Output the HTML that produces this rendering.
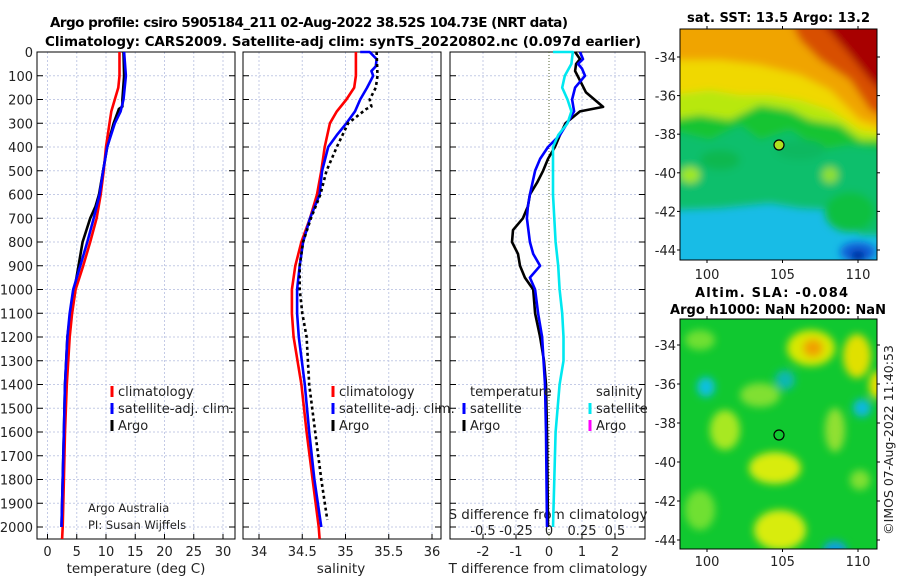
<!DOCTYPE html>
<html><head><meta charset="utf-8"><style>
html,body{margin:0;padding:0;background:#fff;}
svg{display:block;font-family:"DejaVu Sans","Liberation Sans",sans-serif;}
</style></head><body>
<svg id="fig" width="900" height="580" viewBox="0 0 900 580" xmlns="http://www.w3.org/2000/svg">
<defs>
<filter id="bl" x="-10%" y="-10%" width="120%" height="120%"><feGaussianBlur stdDeviation="4"/></filter>
<filter id="bl2" x="-10%" y="-10%" width="120%" height="120%"><feGaussianBlur stdDeviation="4"/></filter>
<clipPath id="cm1"><rect x="680" y="29" width="197" height="231"/></clipPath>
<clipPath id="cm2"><rect x="680" y="319" width="197" height="230"/></clipPath>
</defs>
<text x="50" y="27" textLength="518" font-size="13.5" font-weight="bold">Argo profile: csiro 5905184_211 02-Aug-2022 38.52S 104.73E (NRT data)</text>
<text x="45" y="46" textLength="596" font-size="13.5" font-weight="bold">Climatology: CARS2009. Satellite-adj clim: synTS_20220802.nc (0.097d earlier)</text>

<!-- SST map -->
<g clip-path="url(#cm1)">
<rect x="680" y="29" width="197" height="231" fill="#18bce6"/>
<g filter="url(#bl)">
<polygon points="670,20 890,20 890,235 860,235 840,210 800,208 770,203 720,208 670,210" fill="#0cbf6c"/>
<polygon points="670,20 890,20 890,150 850,145 820,150 790,130 760,140 740,125 710,140 670,130" fill="#12c430"/>
<polygon points="670,20 890,20 890,140 860,140 840,125 810,120 790,110 760,105 730,120 700,115 670,120" fill="#b8e810"/>
<polygon points="670,20 890,20 890,135 860,130 830,110 800,100 770,95 740,95 710,90 670,95" fill="#f0d800"/>
<polygon points="670,20 890,20 890,130 860,120 830,90 800,75 760,65 720,60 680,60 670,60" fill="#f0a400"/>
<polygon points="790,20 890,20 890,120 870,110 850,80 820,60 800,40" fill="#d85000"/>
<polygon points="820,20 890,20 890,100 870,80 850,55" fill="#a80000"/>
<ellipse cx="850" cy="212" rx="25" ry="20" fill="#10c040"/>
<ellipse cx="830" cy="175" rx="8" ry="8" fill="#90e030"/>
<ellipse cx="690" cy="175" rx="10" ry="8" fill="#a0e820"/>
<ellipse cx="720" cy="160" rx="20" ry="10" fill="#10b850"/>
<ellipse cx="800" cy="150" rx="25" ry="10" fill="#10b860"/>
<ellipse cx="858" cy="252" rx="18" ry="10" fill="#1060d8"/>
<ellipse cx="858" cy="256" rx="7" ry="5" fill="#001090"/>
</g>
</g>
<rect x="680" y="29" width="197" height="231" fill="none" stroke="#000" stroke-width="1"/>
<circle cx="779" cy="145" r="5" fill="#b0e020" stroke="#000" stroke-width="1.2"/>
<text x="687" y="22" textLength="183" font-size="13" font-weight="bold">sat. SST: 13.5 Argo: 13.2</text>

<!-- SLA map -->
<g clip-path="url(#cm2)">
<rect x="680" y="319" width="197" height="230" fill="#10c830"/>
<g filter="url(#bl2)">
<ellipse cx="811" cy="348" rx="24" ry="18" fill="#d8e800"/>
<ellipse cx="813" cy="348" rx="10" ry="9" fill="#f0a000"/>
<ellipse cx="857" cy="356" rx="14" ry="22" fill="#e0e000"/>
<ellipse cx="877" cy="385" rx="8" ry="14" fill="#e8e000"/>
<ellipse cx="706" cy="387" rx="9" ry="10" fill="#10c0e0"/>
<ellipse cx="785" cy="380" rx="10" ry="10" fill="#10b8b0"/>
<ellipse cx="862" cy="408" rx="9" ry="9" fill="#10b8e0"/>
<ellipse cx="725" cy="430" rx="15" ry="20" fill="#a8e820"/>
<ellipse cx="775" cy="468" rx="26" ry="16" fill="#d8ec10"/>
<ellipse cx="780" cy="530" rx="26" ry="20" fill="#d8ec10"/>
<ellipse cx="835" cy="430" rx="10" ry="22" fill="#90e030"/>
<ellipse cx="835" cy="550" rx="12" ry="9" fill="#10a0e0"/>
<ellipse cx="760" cy="395" rx="20" ry="12" fill="#80e030"/>
<ellipse cx="700" cy="340" rx="15" ry="10" fill="#70e030"/>
<ellipse cx="700" cy="510" rx="15" ry="20" fill="#70e030"/>
<ellipse cx="860" cy="480" rx="10" ry="10" fill="#80e030"/>
</g>
</g>
<rect x="680" y="319" width="197" height="230" fill="none" stroke="#000" stroke-width="1"/>
<circle cx="779" cy="435" r="5" fill="none" stroke="#000" stroke-width="1.2"/>
<text x="695" y="297" textLength="153" font-size="13" font-weight="bold">Altim. SLA: -0.084</text>
<text x="670" y="314" textLength="216" font-size="13" font-weight="bold">Argo h1000: NaN h2000: NaN</text>
<text transform="translate(893,440) rotate(-90)" text-anchor="middle" font-size="12.5" fill="#222">©IMOS 07-Aug-2022 11:40:53</text>

<g id="plots"></g>
</svg>
<script>
// ---- data ----
const depthTicks = [0,100,200,300,400,500,600,700,800,900,1000,1100,1200,1300,1400,1500,1600,1700,1800,1900,2000];
const tempTicks = [0,5,10,15,20,25,30];
const salTicks = [34,34.5,35,35.5,36];
const tdiffTicks = [-2,-1,0,1,2];
const sdiffTicks = [-0.5,-0.25,0,0.25,0.5];
const latTicks = [-34,-36,-38,-40,-42,-44];
const lonTicks = [100,105,110];

const tClimDepth = [0,100,150,200,250,300,400,500,600,700,800,900,1000,1100,1200,1400,1600,1800,2000,2050];
const tClimVal   = [12.3,12.3,12.1,11.5,10.9,10.6,10.0,9.6,9.1,8.4,7.3,6.1,4.8,4.2,3.8,3.3,3.0,2.8,2.6,2.5];
const tSatDepth  = [0,100,150,200,250,300,400,500,600,700,800,900,1000,1100,1200,1400,1600,1800,2000];
const tSatVal    = [13.1,13.4,13.2,13.0,12.5,11.5,10.2,9.5,8.9,7.9,6.8,5.6,4.4,3.8,3.4,3.0,2.8,2.6,2.4];
const tArgoDepth = [0,100,200,230,240,300,400,500,600,650,700,800,900,1000,1100,1200,1400,1600,1800,2000];
const tArgoVal   = [13.0,13.1,12.8,12.8,12.2,11.3,10.2,9.5,8.8,8.2,7.3,6.0,5.3,4.6,3.9,3.4,3.0,2.8,2.6,2.4];

const sClimDepth = [0,100,150,200,250,300,400,500,600,700,800,900,1000,1100,1200,1400,1600,1800,2000,2050];
const sClimVal   = [35.12,35.12,35.10,35.01,34.90,34.82,34.76,34.72,34.67,34.59,34.49,34.42,34.38,34.38,34.40,34.49,34.55,34.62,34.69,34.70];
const sSatDepth  = [0,0,30,60,80,100,150,200,250,300,350,400,500,600,700,800,900,1000,1100,1200,1400,1600,1800,2000];
const sSatVal    = [35.17,35.28,35.36,35.35,35.30,35.32,35.25,35.17,35.11,35.01,34.90,34.80,34.73,34.70,34.59,34.51,34.47,34.44,34.44,34.46,34.53,34.58,34.64,34.72];
const sArgoDepth = [0,100,150,200,230,240,300,400,500,600,700,800,900,1000,1100,1200,1400,1600,1800,1970];
const sArgoVal   = [35.36,35.37,35.35,35.28,35.30,35.24,35.03,34.90,34.78,34.71,34.60,34.51,34.47,34.47,34.50,34.55,34.58,34.65,34.72,34.79];

const dTArgoDepth = [0,30,50,80,120,170,231,250,300,350,400,450,500,550,600,650,700,750,800,850,900,950,1000,1100,1200,1300,1400,1600,2000];
const dTArgoVal   = [0.79,0.94,0.82,0.79,0.94,1.12,1.64,0.94,0.50,0.33,0.18,-0.03,-0.18,-0.36,-0.58,-0.64,-0.79,-1.09,-1.12,-0.94,-0.88,-0.73,-0.48,-0.42,-0.27,-0.15,-0.09,-0.06,-0.03];
const dTSatDepth  = [0,30,50,70,100,150,200,250,300,350,400,450,500,600,650,700,800,850,900,950,1000,1100,1200,1400,1600,2000];
const dTSatVal    = [0.94,1.03,0.88,1.0,1.09,0.79,0.70,0.76,0.55,0.33,-0.03,-0.27,-0.42,-0.58,-0.64,-0.67,-0.58,-0.48,-0.27,-0.58,-0.42,-0.33,-0.21,-0.12,-0.09,-0.06];
const dSSatDepth  = [0,0,50,100,150,200,250,300,350,400,500,600,700,800,900,1000,1100,1200,1300,1400,1600,1800,2000];
const dSSatVal    = [0.03,0.18,0.17,0.12,0.10,0.14,0.17,0.14,0.07,0.03,0.03,0.03,0.04,0.05,0.07,0.08,0.10,0.11,0.11,0.08,0.05,0.04,0.03];

// ---- geometry ----
const TOP=52, BOT=539, PX_PER_M=0.2375;
const yD = d => TOP + d*PX_PER_M;
const xT = t => 47.5 + t*5.85;
const xS = s => 259 + (s-34)*86.5;
const xDT = v => 549 + v*33;
const xDS = v => 549 + v*132;
const panels = [{x0:37,x1:235},{x0:243,x1:441},{x0:450,x1:645}];

const NS='http://www.w3.org/2000/svg';
const root=document.getElementById('plots');
function mk(tag, attrs, parent){
  const e=document.createElementNS(NS,tag);
  for(const k in attrs) e.setAttribute(k,attrs[k]);
  (parent||root).appendChild(e); return e;
}
function txt(str,x,y,size,anchor,fill){
  const t=mk('text',{x:x,y:y,'font-size':size,'text-anchor':anchor||'start',fill:fill||'#222'});
  t.textContent=str; return t;
}

panels.forEach((p,i)=>{
  const g=mk('g',{});
  
  
  depthTicks.forEach(d=>{
    mk('line',{x1:p.x0,x2:p.x1,y1:yD(d),y2:yD(d),stroke:'#c4cbe6','stroke-width':1,'stroke-dasharray':'2,2'},g);
    mk('line',{x1:p.x0,x2:p.x0+6,y1:yD(d),y2:yD(d),stroke:'#000'},g);
    mk('line',{x1:p.x1-6,x2:p.x1,y1:yD(d),y2:yD(d),stroke:'#000'},g);
  });
  const xs = i===0? tempTicks.map(xT) : i===1? salTicks.map(xS) : tdiffTicks.filter(v=>v!==0).map(xDT);
  xs.forEach(x=>{
    mk('line',{x1:x,x2:x,y1:TOP,y2:BOT,stroke:'#c4cbe6','stroke-width':1,'stroke-dasharray':'2,2'},g);
    mk('line',{x1:x,x2:x,y1:BOT-5,y2:BOT,stroke:'#000'},g);
  });
  const fr=mk('rect',{x:p.x0,y:TOP,width:p.x1-p.x0,height:BOT-TOP,fill:'none',stroke:'#000','stroke-width':1},g);
  
  
});

depthTicks.forEach(d=>{
  const t=txt(String(d),33,yD(d)+5,13,'end');
  
  
});
tempTicks.forEach(v=>{const t=txt(String(v),xT(v),556,13,'middle');
  
  });
salTicks.forEach(v=>{const t=txt(String(v),xS(v),556,13,'middle');
  
  });
tdiffTicks.forEach(v=>{const t=txt(String(v),xDT(v),556,13,'middle');
  
  });
sdiffTicks.forEach(v=>{const t=txt(String(v),xDS(v),535,13,'middle');
  
  });

let a;
a=txt('temperature (deg C)',136,573,13.5,'middle');


a=txt('salinity',341,573,13.5,'middle');


a=txt('T difference from climatology',548,573,13.5,'middle');


a=txt('S difference from climatology',548,519,13.5,'middle');


a=txt('Argo Australia',88,512,11.5,'start');


a=txt('PI: Susan Wijffels',88,529,11.5,'start');



a=mk('line',{x1:549,x2:549,y1:TOP,y2:BOT,stroke:'#556633','stroke-width':1,'stroke-dasharray':'1,2'});



function line(depths, vals, xf, color, width, dash, name){
  const pts=depths.map((d,i)=>xf(vals[i]).toFixed(1)+','+yD(d).toFixed(1)).join(' ');
  const at={points:pts,fill:'none',stroke:color,'stroke-width':width,'stroke-linejoin':'round'};
  if(dash) at['stroke-dasharray']=dash;
  const pl=mk('polyline',at);
  
  
}
line(tArgoDepth,tArgoVal,xT,'#000',2.6,null,'temperature-argo-line');
line(tClimDepth,tClimVal,xT,'#ff0000',2.6,null,'temperature-climatology-line');
line(tSatDepth,tSatVal,xT,'#0000ff',2.6,null,'temperature-satellite-line');
line(sClimDepth,sClimVal,xS,'#ff0000',2.6,null,'salinity-climatology-line');
line(sSatDepth,sSatVal,xS,'#0000ff',2.6,null,'salinity-satellite-line');
line(sArgoDepth,sArgoVal,xS,'#000',2.6,'3,3','salinity-argo-line');
line(dTArgoDepth,dTArgoVal,xDT,'#000',2.6,null,'t-diff-argo-line');
line(dTSatDepth,dTSatVal,xDT,'#0000ff',2.6,null,'t-diff-satellite-line');
line(dSSatDepth,dSSatVal,xDS,'#00e8f0',2.6,null,'s-diff-satellite-line');

function legend(x,y,color,label,name){
  const g=mk('g',{});
  
  
  if(color) mk('line',{x1:x,x2:x,y1:y-5,y2:y+6,stroke:color,'stroke-width':3},g);
  const t=mk('text',{x:x+6,y:y+5,'font-size':13,fill:'#222'},g);
  t.textContent=label;
}
legend(112,391,'#ff0000','climatology','legend-t-climatology');
legend(112,408,'#0000ff','satellite-adj. clim.','legend-t-satellite');
legend(112,425,'#000','Argo','legend-t-argo');
legend(333,391,'#ff0000','climatology','legend-s-climatology');
legend(333,408,'#0000ff','satellite-adj. clim.','legend-s-satellite');
legend(333,425,'#000','Argo','legend-s-argo');
legend(464,391,null,'temperature','legend-diff-temperature-header');
legend(464,408,'#0000ff','satellite','legend-diff-t-satellite');
legend(464,425,'#000','Argo','legend-diff-t-argo');
legend(590,391,null,'salinity','legend-diff-salinity-header');
legend(590,408,'#00e8f0','satellite','legend-diff-s-satellite');
legend(590,425,'#ff00ff','Argo','legend-diff-s-argo');

const xLon = lo => 707 + (lo-100)*15.1;
const yLat1 = la => 57 + (-34-la)*19.3;
const yLat2 = la => 345 + (-34-la)*19.5;
[[yLat1,29,260,279],[yLat2,319,549,566]].forEach(([yf,t0,t1,lb],k)=>{
  latTicks.forEach(la=>{
    const y=yf(la);
    mk('line',{x1:677,x2:680,y1:y,y2:y,stroke:'#000'});
    mk('line',{x1:877,x2:880,y1:y,y2:y,stroke:'#000'});
    const t=txt(String(la),676,y+5,13,'end');
    
    
  });
  lonTicks.forEach(lo=>{
    const x=xLon(lo);
    mk('line',{x1:x,x2:x,y1:t1,y2:t1+3,stroke:'#000'});
    mk('line',{x1:x,x2:x,y1:t0-3,y2:t0,stroke:'#000'});
    const t=txt(String(lo),x,lb,13,'middle');
    
    
  });
});
</script>
</body></html>
